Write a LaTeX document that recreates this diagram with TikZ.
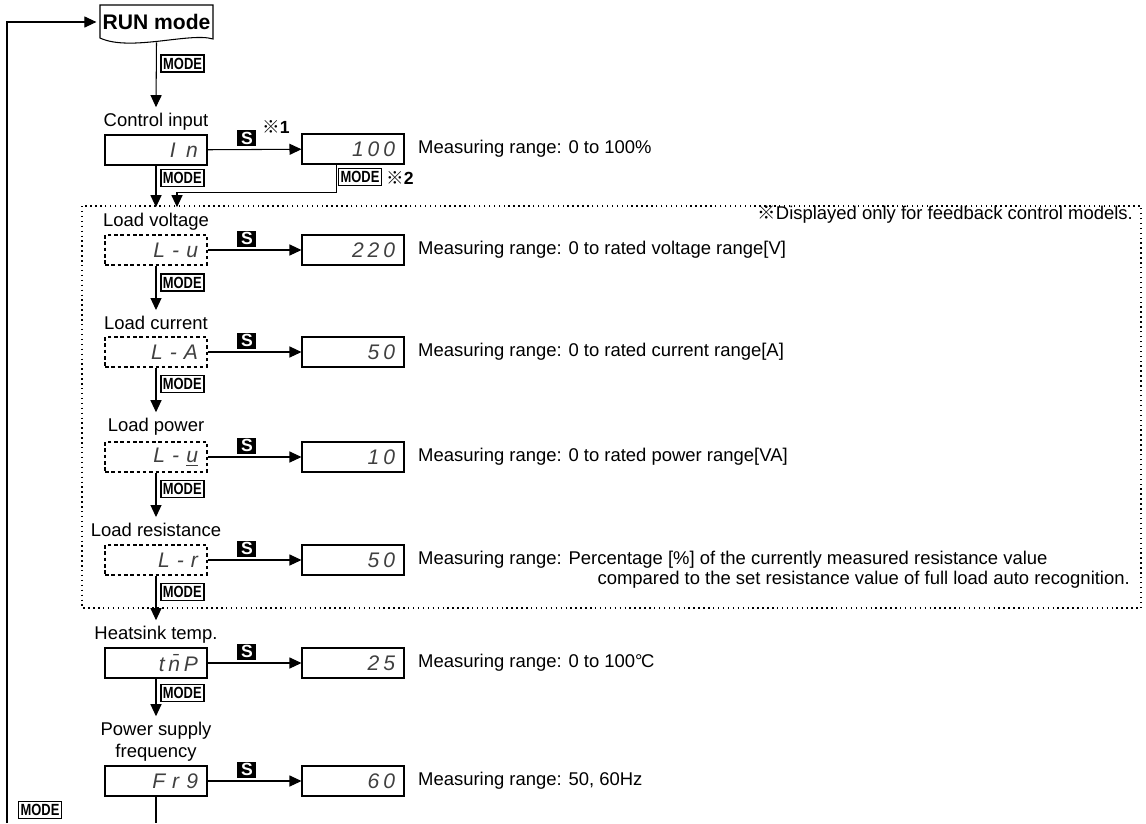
\documentclass[tikz,border=0pt]{standalone}
\usepackage{fontspec}
\usepackage{graphicx}
\setmainfont{Liberation Sans}
\newfontfamily\cjk{Noto Sans CJK JP}
\newfontfamily\segfont[LetterSpace=18]{Liberation Sans}
\usetikzlibrary{arrows.meta,positioning,calc}
\newcommand{\kome}{{\cjk ※}}
\newcommand{\keytext}[1]{\scalebox{0.8}[1]{#1}}

\begin{document}
\begin{tikzpicture}[x=0.02cm,y=-0.02cm,>={Triangle[length=0.24cm,width=0.22cm]},
  line/.style={line width=0.6pt},
  arr/.style={line,->},
  disp/.style={draw,line width=0.6pt,minimum height=0.6cm,text width=1.68cm,inner xsep=0.18cm,
    align=right,font=\segfont\itshape\fontsize{12}{12}\selectfont,text=black!75},
  dispopt/.style={disp,dash pattern=on 2pt off 1.6pt},
  ttl/.style={font=\fontsize{10.5}{12.5}\selectfont,align=center},
  rng/.style={anchor=west,font=\fontsize{10.5}{12.5}\selectfont},
  modekey/.style={draw,line width=0.9pt,inner sep=0pt,minimum width=0.86cm,minimum height=0.34cm,
    font=\fontsize{9.2}{9.2}\selectfont\bfseries},
  skey/.style={fill=black,text=white,inner sep=0pt,minimum width=0.38cm,minimum height=0.32cm,
    font=\fontsize{10}{10}\selectfont\bfseries}]
  \useasboundingbox (0,0) rectangle (1146,823);

  % feedback-only block
  \draw[dotted,line width=0.8pt] (82,206) rectangle (1141,608);
  \node[anchor=east,font=\fontsize{10.5}{12.5}\selectfont] (note) at (1139,215)
    {\kome Displayed only for feedback control models.};

  % RUN mode
  \draw[line] (100,5) -- (213,5) -- (213,39) .. controls (190,32) and (130,52) .. (100,38) -- cycle;
  \node[font=\fontsize{12}{14}\selectfont\bfseries,minimum width=2.26cm,minimum height=0.8cm] (run) at (156.5,22) {RUN mode};

  % control input
  \node[ttl] (t_in) at (156,122) {Control input};
  \node[disp] (d_in) at (156,150) {I\,\,\,n};
  \node[disp] (v_in) at (353,149) {100};
  \node[rng] (r_in) at (412,149) {Measuring range: 0 to 100\%};
  \node[font=\fontsize{10}{12}\selectfont] (n1) at (276,127) {\kome\textbf{1}};

  % load voltage
  \node[ttl] (t_lu) at (156,222) {Load voltage};
  \node[dispopt] (d_lu) at (156,250) {L - u};
  \node[disp] (v_lu) at (353,250) {220};
  \node[rng] (r_lu) at (412,250) {Measuring range: 0 to rated voltage range[V]};

  % load current
  \node[ttl] (t_la) at (156,323) {Load current};
  \node[dispopt] (d_la) at (156,352) {L - A};
  \node[disp] (v_la) at (353,352) {50};
  \node[rng] (r_la) at (412,352) {Measuring range: 0 to rated current range[A]};

  % load power
  \node[ttl] (t_lw) at (156,427) {Load power};
  \node[dispopt] (d_lw) at (156,457) {L - \underline{u}};
  \node[disp] (v_lw) at (353,457) {10};
  \node[rng] (r_lw) at (412,457) {Measuring range: 0 to rated power range[VA]};

  % load resistance
  \node[ttl] (t_lr) at (156,530) {Load resistance};
  \node[dispopt] (d_lr) at (156,560) {L - r};
  \node[disp] (v_lr) at (353,560) {50};
  \node[rng] (r_lr) at (412,560) {Measuring range: Percentage [\%] of the currently measured resistance value};
  \node[anchor=east,font=\fontsize{10.5}{12.5}\selectfont] (r_lr2) at (1136,580)
    {compared to the set resistance value of full load auto recognition.};

  % heatsink
  \node[ttl] (t_tp) at (156,635) {Heatsink temp.};
  \node[disp] (d_tp) at (156,663) {t\={n}P};
  \node[disp] (v_tp) at (353,663) {25};
  \node[rng] (r_tp) at (412,663) {Measuring range: 0 to 100°\kern-0.08em C};

  % supply frequency
  \node[ttl] (t_fr) at (156,742) {Power supply\\frequency};
  \node[disp] (d_fr) at (156,781) {F r 9};
  \node[disp] (v_fr) at (353,781) {60};
  \node[rng] (r_fr) at (412,781) {Measuring range: 50, 60Hz};

  % S key arrows
  \foreach \a in {in,lu,la,lw,lr,tp,fr}
    \draw[arr] (d_\a) -- node[skey,pos=0.42,above=1.5pt] (s_\a) {S} (v_\a);

  % MODE key arrows
  \draw[arr] (run.south) -- node[modekey,pos=0.33,right=0.08cm] (m_run) {\keytext{MODE}} (t_in.north);
  \foreach \a/\b/\p in {in/lu/0.3,lu/la/0.38,la/lw/0.37,lw/lr/0.37,lr/tp/0.37,tp/fr/0.38}
    \draw[arr] (d_\a) -- node[modekey,pos=\p,right=0.08cm] (m_\a) {\keytext{MODE}} (t_\b);
  \draw[arr] ($(v_in.south west)+(35,0)$) -- ++(0,28) -| ($(t_lu.north)+(21,0)$);
  \node[modekey] (m_v) at (360,177) {\keytext{MODE}};
  \node[font=\fontsize{10}{12}\selectfont] (n2) at (400,178) {\kome\textbf{2}};

  % return to RUN mode
  \coordinate (btm) at (156,823);
  \coordinate (loop) at (7,823);
  \draw[line] (d_fr) -- (btm);
  \draw[arr] (loop) |- (run);
  \node[modekey] (m_loop) at (40,810) {\keytext{MODE}};
\end{tikzpicture}
\end{document}
